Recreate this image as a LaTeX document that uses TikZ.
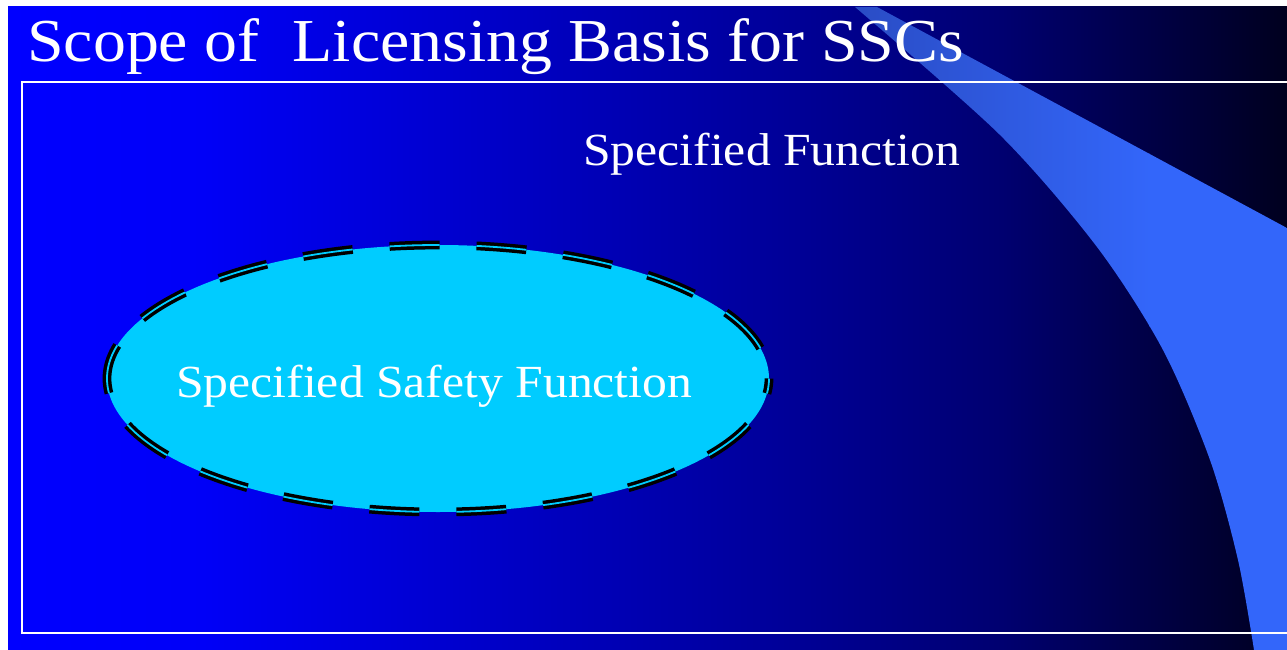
\documentclass[tikz,border=0pt]{standalone}
\usepackage{fontspec}
\setmainfont{Liberation Serif}[FakeStretch=1.08]
\usetikzlibrary{shapes.geometric}
\definecolor{safecyan}{RGB}{0,204,255}
\definecolor{beamA}{RGB}{42,76,196}
\definecolor{beamB}{RGB}{51,102,250}
\pgfdeclarehorizontalshading{bgshade}{100bp}{rgb(0bp)=(0,0,1); rgb(25bp)=(0,0,1); rgb(32.5bp)=(0,0,0.97); rgb(44.2bp)=(0,0,0.78); rgb(55.2bp)=(0,0,0.6); rgb(63.8bp)=(0,0,0.44); rgb(75bp)=(0,0,0.12); rgb(100bp)=(0,0,0.12)}
\tikzset{
  whitetext/.style={anchor=base west, inner sep=0pt, text=white},
  safetyoval/.style={ellipse, draw=black, fill=safecyan, line width=3.5pt, double=safecyan, double distance=1.8pt, dash pattern=on 50pt off 37pt, dash phase=55pt, minimum width=662pt, minimum height=267pt, inner sep=0pt},
  framebox/.style={draw=white, line width=2pt}
}
\begin{document}
\begin{tikzpicture}[x=1pt,y=-1pt]
\useasboundingbox (0,0) rectangle (1287,650);
\fill[white] (0,0) rectangle (1287,650);
\shade[shading=bgshade] (8,7) rectangle (1287,650);
\begin{scope}
  \clip (8,7) rectangle (1287,650);
  \clip (855,7) -- (877,7) -- (1287,228) -- (1287,650) -- plot[smooth] coordinates {(1254,650) (1238,560) (1210,460) (1163,350) (1097,247) (1000,135) (855,7)} -- cycle;
  \shade[left color=beamA, right color=beamB] (850,0) rectangle (1150,650);
  \fill[beamB] (1149,0) rectangle (1290,650);
\end{scope}
\draw[framebox] (21.5,82) rectangle (1300,633);
\node[safetyoval] (safety) at (438,378.5) {};
\node[whitetext, font=\fontsize{61}{70}\selectfont] (title) at (27,62) {Scope of\ \ Licensing Basis for SSCs};
\node[whitetext, font=\fontsize{46}{54}\selectfont] (specfunc) at (583,165) {Specified Function};
\node[whitetext, font=\fontsize{46}{54}\selectfont] (safetext) at (176,397) {Specified Safety Function};
\end{tikzpicture}
\end{document}
